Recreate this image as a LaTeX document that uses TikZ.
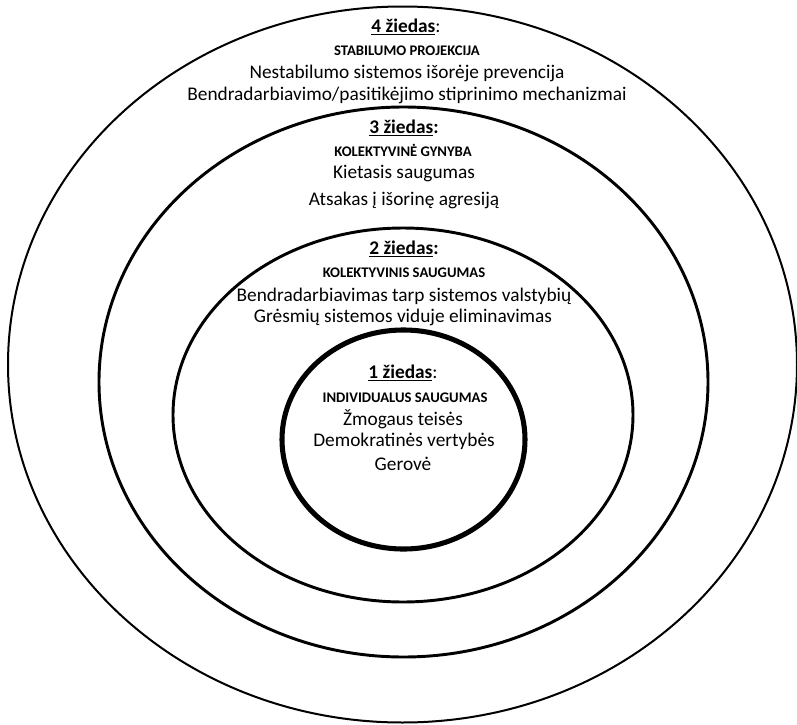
\documentclass[tikz,border=0pt]{standalone}
\usepackage{fontspec}
\setmainfont{Carlito}

\begin{document}
\begin{tikzpicture}[x=0.75pt,y=-0.75pt,
    ringtitle/.style={anchor=base,inner sep=0pt,font=\fontsize{14.5}{17}\selectfont},
    ringsub/.style={anchor=base,inner sep=0pt,font=\bfseries\fontsize{11}{13}\selectfont},
    ringtext/.style={anchor=base,inner sep=0pt,font=\fontsize{14.5}{17}\selectfont}]
      \useasboundingbox (0,0) rectangle (797,725);
      \begin{scope}[black]
        \draw[line width=1.5pt] (402.5,364.5) ellipse (394.5 and 358);
        \draw[line width=2.2pt] (403.5,382) ellipse (304.5 and 275);
        \draw[line width=2.2pt] (403,415) ellipse (230 and 187);
        \draw[line width=3.8pt] (403.5,439.5) ellipse (121.5 and 109.5);
      \end{scope}
      \begin{scope}
        \node[ringtitle] (t4) at (406,32) {\textbf{\underline{4 žiedas}}:};
        \node[ringsub] (s4) at (407,55) {STABILUMO PROJEKCIJA};
        \node[ringtext] (a4) at (407,78) {Nestabilumo sistemos išorėje prevencija};
        \node[ringtext] (b4) at (407,100) {Bendradarbiavimo/pasitikėjimo stiprinimo mechanizmai};
        \node[ringtitle] (t3) at (404,133) {\textbf{\underline{3 žiedas}:}};
        \node[ringsub] (s3) at (403,156) {KOLEKTYVINĖ GYNYBA};
        \node[ringtext] (a3) at (404,178) {Kietasis saugumas};
        \node[ringtext] (b3) at (404,205) {Atsakas į išorinę agresiją};
        \node[ringtitle] (t2) at (404,254) {\textbf{\underline{2 žiedas}:}};
        \node[ringsub] (s2) at (404,277) {KOLEKTYVINIS SAUGUMAS};
        \node[ringtext] (a2) at (404,301) {Bendradarbiavimas tarp sistemos valstybių};
        \node[ringtext] (b2) at (403,322) {Grėsmių sistemos viduje eliminavimas};
        \node[ringtitle] (t1) at (403,378) {\textbf{\underline{1 žiedas}}:};
        \node[ringsub] (s1) at (405,402) {INDIVIDUALUS SAUGUMAS};
        \node[ringtext] (a1) at (403,425) {Žmogaus teisės};
        \node[ringtext] (b1) at (404,446) {Demokratinės vertybės};
        \node[ringtext] (c1) at (403,470) {Gerovė};
      \end{scope}
\end{tikzpicture}
\end{document}
